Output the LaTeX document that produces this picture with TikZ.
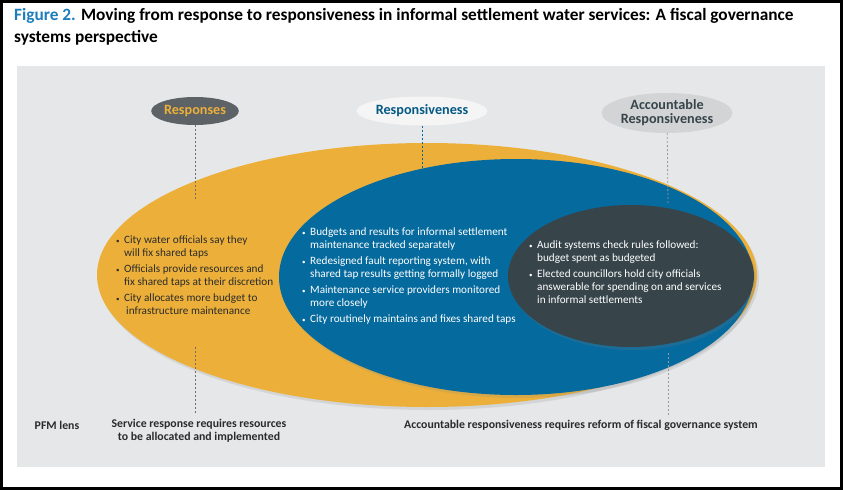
\documentclass[tikz,border=0pt]{standalone}
\usepackage{fontspec}
\setmainfont{Carlito}
\usetikzlibrary{shapes.geometric,shadows}

\definecolor{panelgrey}{HTML}{E6E7E8}
\definecolor{respyellow}{HTML}{ECB03A}
\definecolor{respblue}{HTML}{056A9D}
\definecolor{accdark}{HTML}{37454B}
\definecolor{labeldark}{HTML}{5C6266}
\definecolor{labellight}{HTML}{D3D4D6}
\definecolor{labelwhite}{HTML}{F5F5F5}
\definecolor{titleblue}{HTML}{1C7DBB}
\definecolor{textdark}{HTML}{2B2B2B}
\definecolor{dashgrey}{HTML}{6D6E70}

\newcommand{\bpoint}{\makebox[8pt][l]{\scriptsize\textbullet}}
\newcommand{\bcont}{\hspace*{8pt}}

\tikzset{
  lens/.style={ellipse, inner sep=0pt, font=\bfseries\fontsize{14.2}{14}\selectfont, align=center},
  guide/.style={dash pattern=on 2pt off 2pt, line width=0.8pt, dashgrey},
  bullets/.style={anchor=north west, align=left, inner sep=0pt, font=\fontsize{11.2}{13}\selectfont},
  pfm/.style={font=\bfseries\fontsize{11.8}{13}\selectfont, align=center, textdark},
  softshadow/.style={drop shadow={shadow xshift=2pt, shadow yshift=-3pt, opacity=0.18}}
}

\begin{document}
\begin{tikzpicture}[x=1pt, y=-1pt]
\useasboundingbox (0,0) rectangle (843,490);
\draw[line width=3pt] (1.5,1.5) rectangle (841.5,488.5);

% title
\node[anchor=north west, align=left, inner sep=0pt, font=\bfseries\fontsize{17.3}{22}\selectfont] (title) at (14,8)
  {\textcolor{titleblue}{Figure 2.} Moving from response to responsiveness in informal settlement water services: A fiscal governance\\systems perspective};

\fill[panelgrey] (17,66) rectangle (825,467);

% the three circles
\fill[respyellow, softshadow] (427,275) ellipse [x radius=330pt, y radius=132pt];
\fill[respblue, softshadow] (516,277) ellipse [x radius=237pt, y radius=118pt];
\fill[accdark, softshadow] (631,276) ellipse [x radius=123pt, y radius=71pt];

% headings
\node[lens, fill=labeldark, text=respyellow, minimum width=86pt, minimum height=28pt] (resp) at (195,111) {Responses};
\node[lens, fill=labelwhite, text=respblue!85!black, minimum width=113pt, minimum height=29pt] (respv) at (422,111) {Responsiveness};
\node[lens, fill=labellight, text=accdark, minimum width=126pt, minimum height=40pt] (acc) at (667,113) {Accountable\\Responsiveness};

\coordinate (resptop) at (195,200);
\coordinate (respa) at (195,347);
\coordinate (respb) at (195,413);
\coordinate (respvtop) at (422,170);
\coordinate (acctop) at (668,203);
\coordinate (acca) at (668,353);
\coordinate (accb) at (668,417);
\draw[guide] (resp) -- (resptop);
\draw[guide] (respa) -- (respb);
\draw[guide, respblue] (respv) -- (respvtop);
\draw[guide, dashgrey!70] (acc) -- (acctop);
\draw[guide, dashgrey!70] (acca) -- (accb);

% bullet texts
\node[bullets, text=textdark] (resptext) at (116,236) {%
  \bpoint City water officials say they\\\bcont will fix shared taps\\[3pt]
  \bpoint Officials provide resources and\\\bcont fix shared taps at their discretion\\[3pt]
  \bpoint City allocates more budget to\\\bcont\hspace*{2pt}infrastructure maintenance};
\node[bullets, text=white] (respvtext) at (302,228) {%
  \bpoint Budgets and results for informal settlement\\\bcont maintenance tracked separately\\[3pt]
  \bpoint Redesigned fault reporting system, with\\\bcont shared tap results getting formally logged\\[3pt]
  \bpoint Maintenance service providers monitored\\\bcont more closely\\[3pt]
  \bpoint City routinely maintains and fixes shared taps};
\node[bullets, text=white] (acctext) at (529,241) {%
  \bpoint Audit systems check rules followed:\\\bcont budget spent as budgeted\\[3pt]
  \bpoint Elected councillors hold city officials\\\bcont answerable for spending on and services\\\bcont in informal settlements};

% PFM lens row
\node[pfm] (lens) at (57,425) {PFM lens};
\node[pfm] (lensresp) at (199,431) {Service response requires resources\\to be allocated and implemented};
\node[pfm] (lensacc) at (581,425) {Accountable responsiveness requires reform of fiscal governance system};
\end{tikzpicture}
\end{document}
